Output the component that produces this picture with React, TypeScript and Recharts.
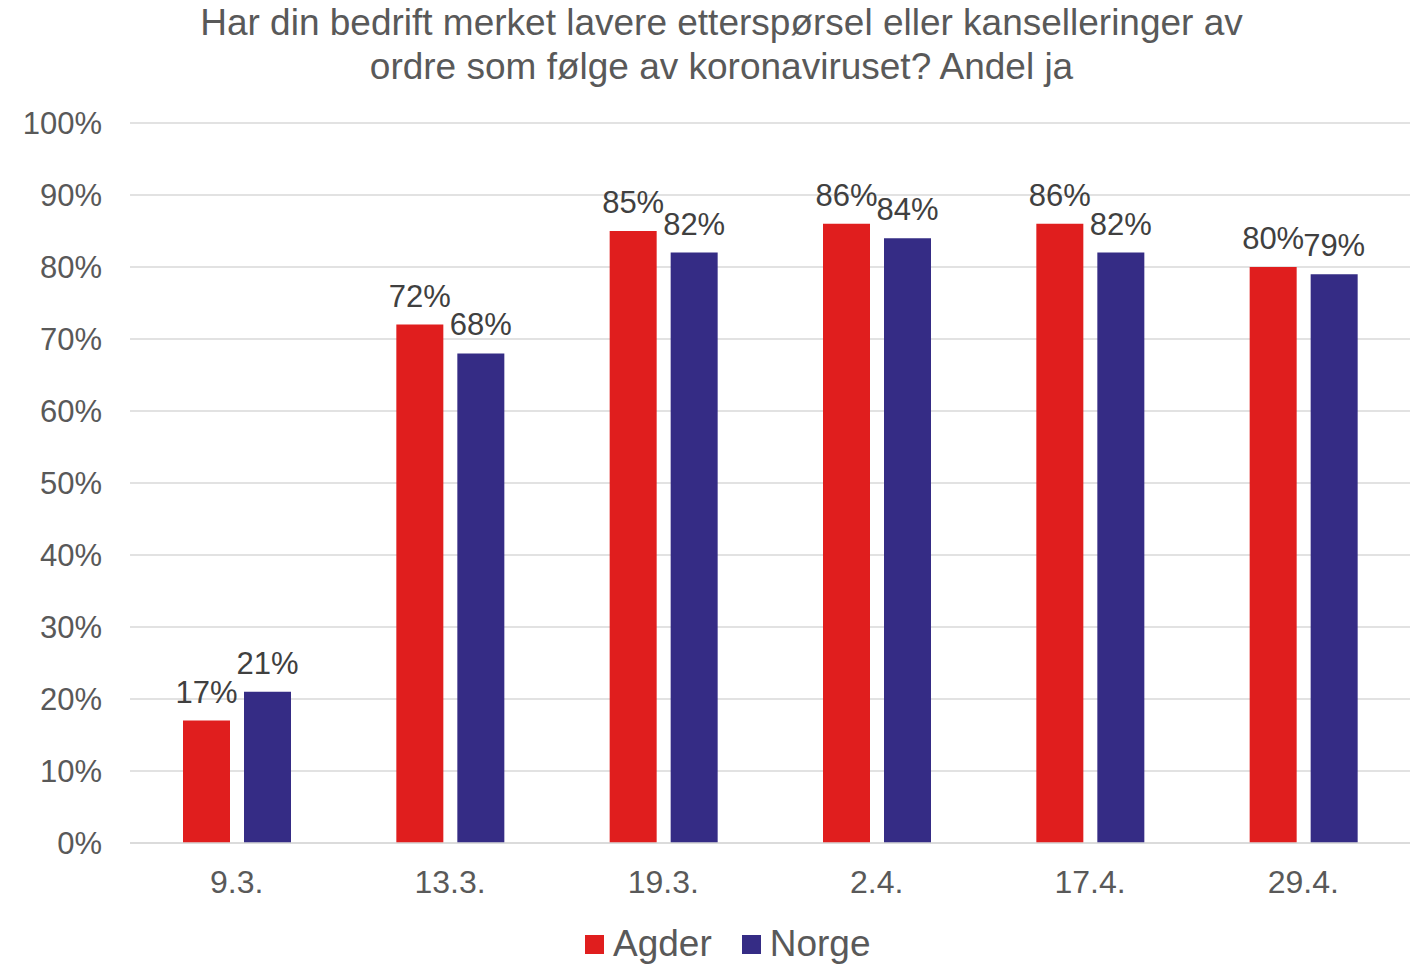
import { BarChart, Bar, XAxis, YAxis, CartesianGrid, LabelList } from 'recharts';

const dates = ['9.3.', '13.3.', '19.3.', '2.4.', '17.4.', '29.4.'];
const agder = [17, 72, 85, 86, 86, 80];
const norge = [21, 68, 82, 84, 82, 79];
const yTicks = [0, 10, 20, 30, 40, 50, 60, 70, 80, 90, 100];

const series = [
  { key: 'agder', name: 'Agder', color: '#E01E1E' },
  { key: 'norge', name: 'Norge', color: '#352C85' },
];

const data = dates.map((d, i) => ({ date: d, agder: agder[i], norge: norge[i] }));

const FONT = '"Liberation Sans", Arial, sans-serif';
const TEXT = '#595959';

const App = () => {
  return (
    <div
      style={{
        position: 'absolute',
        left: 0,
        top: 0,
        width: 1417,
        height: 964,
        background: '#fff',
        fontFamily: FONT,
        overflow: 'hidden',
      }}
    >
      <div
        style={{
          position: 'absolute',
          left: 0,
          top: 1,
          width: 1443,
          textAlign: 'center',
          fontSize: 37,
          lineHeight: '44px',
          color: TEXT,
        }}
      >
        <div>Har din bedrift merket lavere etterspørsel eller kanselleringer av</div>
        <div>ordre som følge av koronaviruset? Andel ja</div>
      </div>

      <BarChart
        width={1417}
        height={964}
        data={data}
        margin={{ top: 123, right: 7, bottom: 0, left: 0 }}
        barSize={47}
        barGap={14}
      >
        <CartesianGrid vertical={false} stroke="#D9D9D9" strokeWidth={1.5} />
        <XAxis
          dataKey="date"
          height={121}
          axisLine={{ stroke: '#D9D9D9', strokeWidth: 1.5 }}
          tickLine={false}
          tickSize={0}
          tickMargin={27}
          tick={{ fill: TEXT, fontSize: 32, fontFamily: FONT }}
        />
        <YAxis
          width={130}
          domain={[0, 100]}
          ticks={yTicks}
          interval={0}
          axisLine={false}
          tickLine={false}
          tickSize={0}
          tickMargin={28}
          tickFormatter={(v: number) => `${v}%`}
          tick={{ fill: TEXT, fontSize: 31, fontFamily: FONT }}
        />
        {series.map((s) => (
          <Bar key={s.key} dataKey={s.key} name={s.name} fill={s.color} isAnimationActive={false}>
            <LabelList
              dataKey={s.key}
              position="top"
              offset={18}
              formatter={(v: number) => `${v}%`}
              style={{ fill: '#404040', fontSize: 31, fontFamily: FONT }}
            />
          </Bar>
        ))}
      </BarChart>

      <div
        style={{
          position: 'absolute',
          left: 585,
          top: 922,
          display: 'flex',
          alignItems: 'center',
          fontSize: 37,
          lineHeight: '44px',
          color: TEXT,
        }}
      >
        {series.map((s, i) => (
          <div key={s.key} style={{ display: 'flex', alignItems: 'center', marginLeft: i ? 30 : 0 }}>
            <span style={{ width: 19, height: 19, background: s.color, display: 'inline-block', marginRight: 9 }} />
            <span>{s.name}</span>
          </div>
        ))}
      </div>
    </div>
  );
};

export default App;
